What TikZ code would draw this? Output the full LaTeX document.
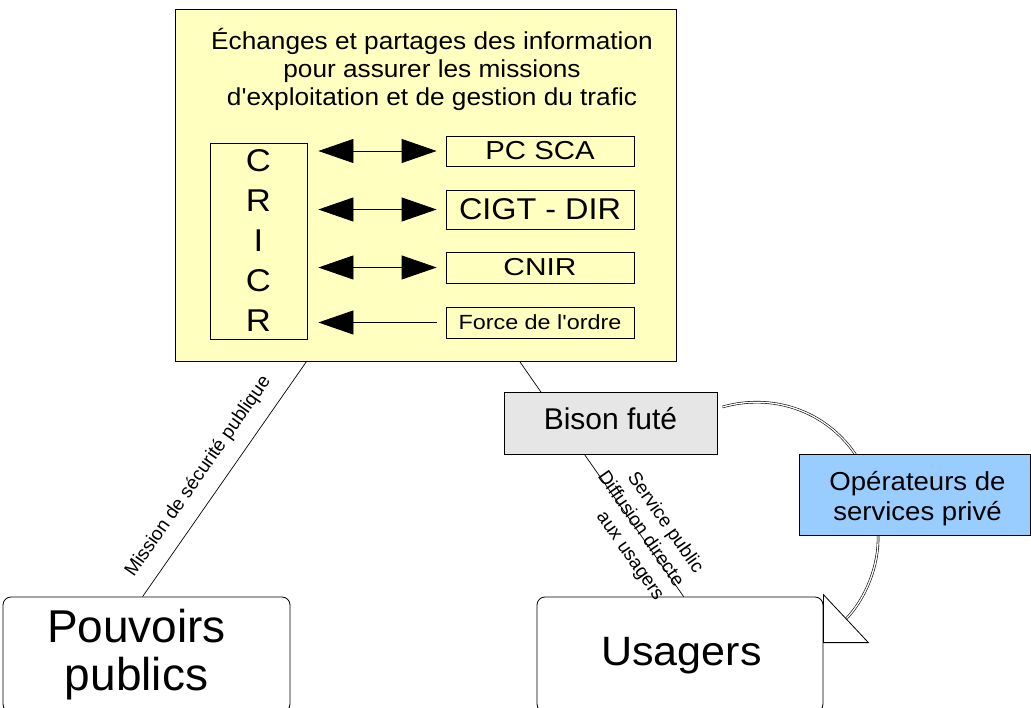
\documentclass[tikz,border=0pt]{standalone}
\usepackage{fontspec}
\setmainfont{Liberation Sans}
\newfontfamily\lsans{Liberation Sans}
\usepackage{graphicx}
\usetikzlibrary{arrows.meta}

\definecolor{paleyellow}{RGB}{255,255,192}
\definecolor{bisongrey}{RGB}{230,230,230}
\definecolor{opblue}{RGB}{153,204,255}

% font size / leading in one go
\newcommand\fs[2]{\lsans\fontsize{#1}{#2}\selectfont}
% horizontally stretched text
\newcommand\hsc[2]{\scalebox{#1}[1]{#2}}

\begin{document}
\begin{tikzpicture}[x=1pt,y=-1pt,
  box/.style={draw=black, line width=0.8pt, inner sep=0pt},
  rbox/.style={draw=black, line width=0.8pt, inner sep=0pt, rounded corners=8pt, fill=white},
  conn/.style={draw=black, line width=0.7pt},
  bigtip/.style={line width=0.8pt},
  band/.style={draw=black, double=white, double distance=1.3pt, line width=0.6pt},
  lbl/.style={font=\fs{19}{24}, inner sep=0pt}
]
\path[use as bounding box] (0,0) rectangle (1031,708);
\clip (0,0) rectangle (1031,708);

% central frame
\node[box, fill=paleyellow, minimum width=501pt, minimum height=352pt] (main) at (425.5,185) {};
\node[font=\fs{24.5}{27.6}, align=center, anchor=north, inner sep=0pt] (title) at (432,28.5)
  {\hsc{1.07}{Échanges et partages des information}\\
   \hsc{1.07}{pour assurer les missions}\\
   \hsc{1.07}{d'exploitation et de gestion du trafic}};

% CRICR column
\node[box, minimum width=97pt, minimum height=196pt, font=\fs{31.5}{40}, align=center] (cricr) at (258.5,241)
  {\hsc{1.1}{C}\\\hsc{1.1}{R}\\\hsc{1.1}{I}\\\hsc{1.1}{C}\\\hsc{1.1}{R}};

% partner boxes
\node[box, minimum width=188pt, minimum height=30pt, font=\fs{26}{30}] (pcsca) at (540,151) {\hsc{1.13}{PC SCA}};
\node[box, minimum width=188pt, minimum height=39pt, font=\fs{30}{34}] (cigt) at (540,209.5) {\hsc{1.08}{CIGT - DIR}};
\node[box, minimum width=188pt, minimum height=31pt, font=\fs{24.5}{28}] (cnir) at (540,267.5) {\hsc{1.22}{CNIR}};
\node[box, minimum width=188pt, minimum height=31pt, font=\fs{20.5}{24}] (force) at (540,322.5) {\hsc{1.14}{Force de l'ordre}};

% exchanges
\tikzset{tri/.tip={Triangle[length=35pt,width=24pt]}}
\draw[bigtip, tri-tri, shorten <=11pt, shorten >=9pt] (cricr.east |- pcsca.west) -- (pcsca.west);
\draw[bigtip, tri-tri, shorten <=11pt, shorten >=9pt] (cricr.east |- cigt.west) -- (cigt.west);
\draw[bigtip, tri-tri, shorten <=11pt, shorten >=9pt] (cricr.east |- cnir.west) -- (cnir.west);
\draw[bigtip, tri-, shorten <=11pt, shorten >=9pt] (cricr.east |- force.west) -- (force.west);

% lower boxes
\node[rbox, minimum width=287pt, minimum height=115pt] (pp) at (146.5,654.5) {};
\node[rbox, minimum width=286pt, minimum height=115pt] (us) at (680,654.5) {};
\node[font=\fs{46}{48}, align=center, inner sep=0pt] (ppt) at (136.5,655) {Pouvoirs\\publics};
\node[font=\fs{41}{48}, anchor=base, inner sep=0pt] (ust) at (681.5,665) {\hsc{1.05}{Usagers}};

% links from the frame
\draw[conn] ([xshift=132pt]main.south west) -- ([xshift=140pt]pp.north west)
  node[lbl, sloped, pos=0.546, yshift=23pt] {Mission de sécurité publique};
\draw[conn] ([xshift=345pt]main.south west) -- ([xshift=147pt]us.north west)
  node[lbl, sloped, pos=0.959, anchor=east, align=right, yshift=3pt]
  {Service public\\Diffusion directe\\aux usagers};

\node[box, fill=bisongrey, minimum width=213pt, minimum height=62pt, font=\fs{30}{36}, text depth=9pt] (bf) at (610.5,423) {Bison futé};

% curved band towards the users
\coordinate (bandend) at ([xshift=23pt,yshift=-22pt]us.north east);
\draw[band] ([xshift=5pt,yshift=16pt]bf.east) .. controls (800,385) and (880,440) .. (878,536)
  .. controls (879,565) and (866,598) .. (bandend);
\node[box, fill=opblue, minimum width=231pt, minimum height=81pt] (op) at (914.5,494.5) {};
\node[font=\fs{26}{30.5}, align=center, inner sep=0pt] (opt) at ([xshift=3pt,yshift=-4pt]op.center)
  {\hsc{1.06}{Opérateurs de}\\\hsc{1.06}{services privé}};
\draw[line width=0.8pt, fill=white] ([yshift=2pt]us.north east) -- ++(45,48) -- ++(-45,0) -- cycle;
\end{tikzpicture}
\end{document}
